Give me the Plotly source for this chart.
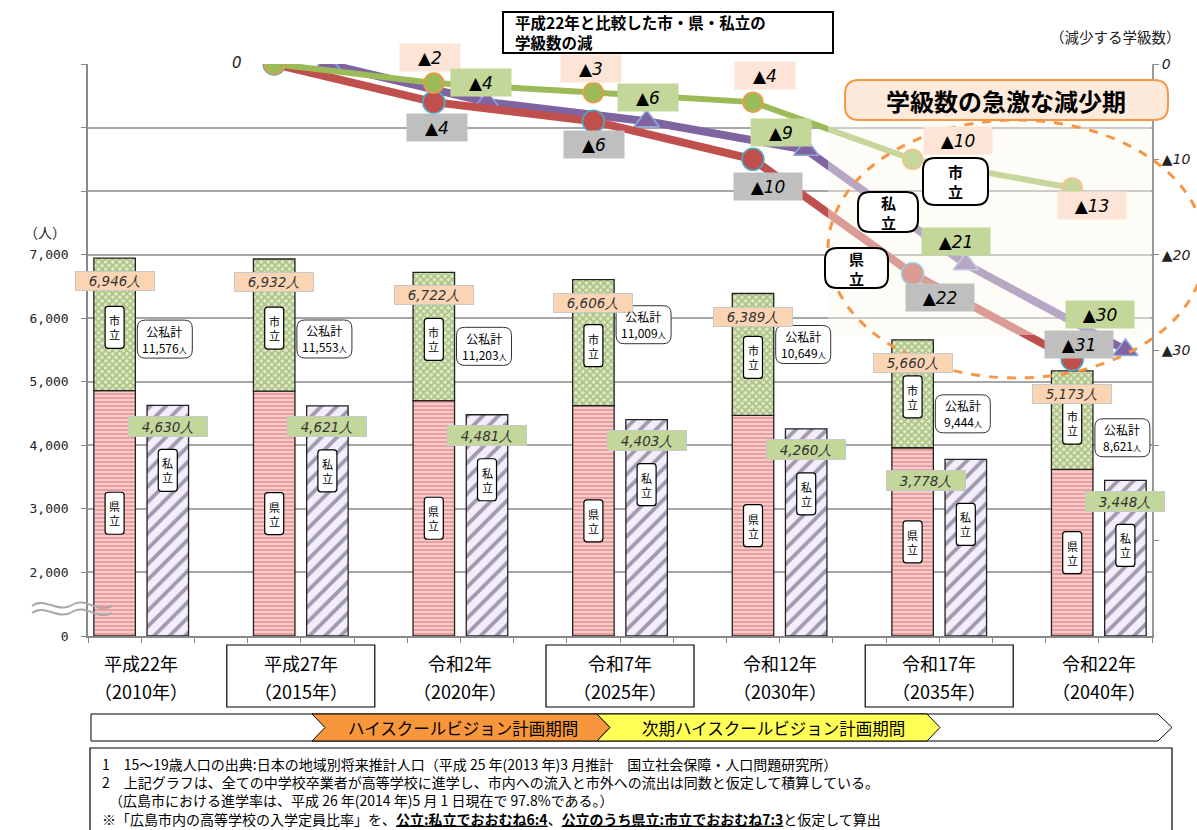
import plotly.graph_objects as go

W, H = 1197, 830

# ---------------- data ----------------
year_names = ["平成22年", "平成27年", "令和2年", "令和7年", "令和12年", "令和17年", "令和22年"]
year_ad = ["（2010年）", "（2015年）", "（2020年）", "（2025年）", "（2030年）", "（2035年）", "（2040年）"]
public_total = [6946, 6932, 6722, 6606, 6389, 5660, 5173]
kenritsu = [4862, 4852, 4705, 4624, 4472, 3962, 3621]
shiritsu = [2084, 2080, 2017, 1982, 1917, 1698, 1552]
private = [4630, 4621, 4481, 4403, 4260, 3778, 3448]
grand_total = [11576, 11553, 11203, 11009, 10649, 9444, 8621]

class_shi = [0, -2, -3, -4, -10, -13]
class_ken = [0, -4, -6, -10, -22, -31]
class_pri = [0, -4, -6, -9, -21, -30]

people_ticks = [0, 2000, 3000, 4000, 5000, 6000, 7000, 8000, 9000, 10000]
people_tick_text = ["0", "2,000", "3,000", "4,000", "5,000", "6,000", "7,000", "", "", ""]
class_ticks = [0, -10, -20, -30, -40, -50]
class_tick_text = ["<i>0</i>", "<i>▲10</i>", "<i>▲20</i>", "<i>▲30</i>", "", ""]

notes = [
    "1　15～19歳人口の出典:日本の地域別将来推計人口（平成 25 年(2013 年)3 月推計　国立社会保障・人口問題研究所）",
    "2　上記グラフは、全ての中学校卒業者が高等学校に進学し、市内への流入と市外への流出は同数と仮定して積算している。",
    "　（広島市における進学率は、平成 26 年(2014 年)5 月 1 日現在で 97.8%である。）",
    "※「広島市内の高等学校の入学定員比率」を、<b><u>公立:私立でおおむね6:4</u></b>、<b><u>公立のうち県立:市立でおおむね7:3</u></b>と仮定して算出",
]

# ------------- geometry / style ---------------
FONT = "Noto Sans CJK JP"
X0, X1 = 88, 1152
Y0, Y1 = 64, 636
SLOTS = 20
YMAX = 9000
SX = (X1 - X0) / SLOTS
SY = (Y1 - Y0) / YMAX


def disp(v):  # broken axis: 0..2000 squeezed into one step
    return v - 1000 if v >= 2000 else v / 2


def px(x):
    return x / W


def py(y):
    return 1 - y / H


def path_px(pts, close=True):
    s = "M " + " L ".join(f"{px(x):.5f},{py(y):.5f}" for x, y in pts)
    return s + (" Z" if close else "")


def rrect_px(x0, y0, x1, y1, r):
    P = lambda x, y: f"{px(x):.5f},{py(y):.5f}"
    return (f"M {P(x0 + r, y0)} L {P(x1 - r, y0)} Q {P(x1, y0)} {P(x1, y0 + r)} "
            f"L {P(x1, y1 - r)} Q {P(x1, y1)} {P(x1 - r, y1)} L {P(x0 + r, y1)} "
            f"Q {P(x0, y1)} {P(x0, y1 - r)} L {P(x0, y0 + r)} Q {P(x0, y0)} {P(x0 + r, y0)} Z")


def rrect_data(xc, yc, w, h, r):
    hw, hh, rx, ry = w / 2 / SX, h / 2 / SY, r / SX, r / SY
    x0, x1, y0, y1 = xc - hw, xc + hw, yc - hh, yc + hh
    P = lambda x, y: f"{x:.4f},{y:.2f}"
    return (f"M {P(x0 + rx, y0)} L {P(x1 - rx, y0)} Q {P(x1, y0)} {P(x1, y0 + ry)} "
            f"L {P(x1, y1 - ry)} Q {P(x1, y1)} {P(x1 - rx, y1)} L {P(x0 + rx, y1)} "
            f"Q {P(x0, y1)} {P(x0, y1 - ry)} L {P(x0, y0 + ry)} Q {P(x0, y0)} {P(x0 + rx, y0)} Z")


def pann(x, y, text, size, xanchor="center", yanchor="middle", **kw):
    d = dict(x=px(x), y=py(y), xref="paper", yref="paper", xanchor=xanchor, yanchor=yanchor,
             text=text, showarrow=False, font=dict(size=size, color=kw.pop("color", "black"),
                                                   family=kw.pop("family", FONT)))
    d.update(kw)
    return d


n = len(public_total)
pub_x = [3 * i + 0.5 for i in range(n)]
pri_x = [3 * i + 1.5 for i in range(n)]
grp_x = [3 * i + 1 for i in range(n)]
circ_x = [3 * (k + 1) + 0.5 for k in range(len(class_shi))]
tri_x = [3 * (k + 1) + 1.5 for k in range(len(class_pri))]

fig = go.Figure()

BW = 0.78
fig.add_bar(x=pub_x, y=[disp(k) for k in kenritsu], base=0, width=BW, name="県立",
            marker=dict(color="#F4C2C2", line=dict(color="#222", width=1.3),
                        pattern=dict(shape="-", fgcolor="#E07070", bgcolor="#F6CDCD", size=4, solidity=0.5)))
fig.add_bar(x=pub_x, y=shiritsu, base=[disp(k) for k in kenritsu], width=BW, name="市立",
            marker=dict(color="#C9DBA5", line=dict(color="#222", width=1.3),
                        pattern=dict(shape="x", fgcolor="#77983A", bgcolor="#DDE8C6", size=5, solidity=0.55)))
fig.add_bar(x=pri_x, y=[disp(p) for p in private], base=0, width=BW, name="私立",
            marker=dict(color="#EEE8F6", line=dict(color="#222", width=1.3),
                        pattern=dict(shape="/", fgcolor="#4E4668", bgcolor="#F3EEFA", size=11, solidity=0.35)))

# class-reduction lines
fig.add_scatter(x=tri_x, y=class_pri, yaxis="y2", mode="lines+markers", name="私立学級",
                line=dict(color="#8064A2", width=8),
                marker=dict(symbol="triangle-up", size=22, color="#8064A2", line=dict(color="#8EA9DB", width=1.5)))
fig.add_scatter(x=circ_x, y=class_ken, yaxis="y2", mode="lines+markers", name="県立学級",
                line=dict(color="#C0504D", width=8),
                marker=dict(symbol="circle", size=22, color="#C0504D", line=dict(color="#4BACC6", width=1.5)))
fig.add_scatter(x=circ_x, y=class_shi, yaxis="y2", mode="lines+markers", name="市立学級",
                line=dict(color="#9BBB59", width=6),
                marker=dict(symbol="circle", size=20, color="#9BBB59", line=dict(color="#F79646", width=1.5)))

shapes = []
ann = []

# faded zone + dashed ellipse + callout
shapes.append(dict(type="rect", xref="paper", yref="paper", x0=px(828), x1=px(1151), y0=py(335), y1=py(120),
                   fillcolor="rgba(251,248,238,0.45)", line=dict(width=0), layer="above"))
shapes.append(dict(type="circle", xref="paper", yref="paper", x0=px(828), x1=px(1205), y0=py(378), y1=py(120),
                   line=dict(color="#F79646", width=3, dash="dash"), layer="above"))
shapes.append(dict(type="path", xref="paper", yref="paper", path=rrect_px(845, 80, 1168, 120, 14),
                   fillcolor="#FDEADB", line=dict(color="#F79646", width=2), layer="above"))
ann.append(pann(1006, 101, "<b>学級数の急激な減少期</b>", 24))

# title box
shapes.append(dict(type="rect", xref="paper", yref="paper", x0=px(503), x1=px(833), y0=py(53), y1=py(12),
                   fillcolor="white", line=dict(color="black", width=2)))
ann.append(pann(513, 32, "<b>平成22年と比較した市・県・私立の<br>学級数の減</b>", 15.5, xanchor="left", align="left"))
ann.append(pann(1115, 36, "（減少する学級数）", 14.5, color="#222"))
ann.append(pann(237, 63, "<i>0</i>", 15, color="#222", family="DejaVu Sans"))
ann.append(pann(45, 232, "（人）", 14, color="#222"))

# axis break mark
for dy in (0, 7):
    shapes.append(dict(type="path", xref="paper", yref="paper", line=dict(color="#A8A8A8", width=2),
                       path=(f"M {px(32):.5f},{py(606 + dy):.5f} C {px(45):.5f},{py(596 + dy):.5f} "
                             f"{px(58):.5f},{py(614 + dy):.5f} {px(72):.5f},{py(605 + dy):.5f} "
                             f"C {px(85):.5f},{py(596 + dy):.5f} {px(98):.5f},{py(614 + dy):.5f} "
                             f"{px(112):.5f},{py(606 + dy):.5f}")))

# bar labels
lab_font = dict(size=13.5, color="#333", family="DejaVu Sans")
for i in range(n):
    top_pub = disp(public_total[i])
    ann.append(dict(x=pub_x[i], y=top_pub, xref="x", yref="y", yshift=-23, showarrow=False,
                    xanchor="center", yanchor="middle",
                    text=f"<i>{public_total[i]:,}人</i>", font=lab_font, bgcolor="#FBD4B4",
                    bordercolor="#C8C8C8", borderwidth=1, width=76, height=16))
    ann.append(dict(x=pri_x[i], y=disp(private[i]), xref="x", yref="y", yshift=-21,
                    xshift=(-40 if i == 5 else 0), showarrow=False, xanchor="center", yanchor="middle",
                    text=f"<i>{private[i]:,}人</i>", font=lab_font, bgcolor="#C4D79B",
                    bordercolor="#C8C8C8", borderwidth=1, width=76, height=17))
    tags = [(pub_x[i], disp(kenritsu[i]) + shiritsu[i] / 2 - 3 / SY, "市<br>立"),
            (pub_x[i], disp(kenritsu[i]) / 2, "県<br>立"),
            (pri_x[i], disp(private[i]) - 65 / SY, "私<br>立")]
    for xc, yc, t in tags:
        shapes.append(dict(type="path", xref="x", yref="y", path=rrect_data(xc, yc, 19, 42, 3),
                           fillcolor="white", line=dict(color="black", width=1.2), layer="above"))
        ann.append(dict(x=xc, y=yc, xref="x", yref="y", text=t, showarrow=False,
                        xanchor="center", yanchor="middle",
                        font=dict(size=11, color="black", family=FONT)))

# 公私計 boxes
kouji_below = [81, 80, 74, 45, 51, 74, 67]
for i in range(n):
    yc = disp(public_total[i]) - kouji_below[i] / SY
    xc = pri_x[i] - 3 / SX
    shapes.append(dict(type="path", xref="x", yref="y", path=rrect_data(xc, yc, 55, 38, 8),
                       fillcolor="white", line=dict(color="#333", width=1), layer="above"))
    ann.append(dict(x=xc, y=yc, xref="x", yref="y", showarrow=False, xanchor="center", yanchor="middle",
                    text=f"公私計<br>{grand_total[i]:,}<span style='font-size:8px'>人</span>",
                    font=dict(size=12, color="black", family=FONT)))

# category labels (two lines) under the axis
for i in range(n):
    for txt, ypix in ((year_names[i], 663), (year_ad[i], 691)):
        ann.append(dict(x=grp_x[i], y=py(ypix), xref="x", yref="paper", xanchor="center", yanchor="middle",
                        text=txt, showarrow=False, font=dict(size=18, color="black", family=FONT)))

# line labels
shi_off = [None, (-4, -26), (-2, -24), (12, -27), (45, -19), (20, 18)]
ken_off = [None, (3, 25), (1, 23), (15, 27), (27, 24), (7, -15)]
pri_off = [None, (-6, -20), (1, -24), (-25, -17), (-10, -23), (-25, -36)]
for xs, vals, offs, col in ((circ_x, class_shi, shi_off, "#FCE4D6"),
                            (tri_x, class_pri, pri_off, "#C4D79B"),
                            (circ_x, class_ken, ken_off, "#BFBFBF")):
    for k in range(1, len(vals)):
        dx, dy = offs[k]
        txt = f"▲{abs(vals[k])}"
        ann.append(dict(x=xs[k], y=vals[k], xref="x", yref="y2", xshift=dx, yshift=-dy, showarrow=False,
                        xanchor="center", yanchor="middle",
                        text=f"<i>{txt}</i>", bgcolor=col, width=(58 if abs(vals[k]) < 10 else 66), height=25,
                        font=dict(size=17, color="black", family="DejaVu Sans")))

# series name tags in line zone
for (x0, y0, x1, y1, t) in ((923, 158, 988, 205, "市<br>立"), (858, 192, 918, 232, "私<br>立"),
                            (825, 248, 888, 288, "県<br>立")):
    shapes.append(dict(type="path", xref="paper", yref="paper", path=rrect_px(x0, y0, x1, y1, 12),
                       fillcolor="white", line=dict(color="black", width=2), layer="above"))
    ann.append(pann((x0 + x1) / 2, (y0 + y1) / 2, f"<b>{t}</b>", 15))

# boxes around alternate years
for i in (1, 3, 5):
    shapes.append(dict(type="rect", xref="x", yref="paper", x0=grp_x[i] - 74 / SX, x1=grp_x[i] + 74 / SX,
                       y0=py(707), y1=py(645), line=dict(color="black", width=1.2)))

# plan-period arrow band
shapes.append(dict(type="path", xref="paper", yref="paper", fillcolor="white", line=dict(color="black", width=1),
                   path=path_px([(91, 714), (1158, 714), (1172, 727.5), (1158, 741), (91, 741)])))
shapes.append(dict(type="path", xref="paper", yref="paper", fillcolor="#F7963A", line=dict(color="black", width=1),
                   path=path_px([(312, 714), (597, 714), (610, 727.5), (597, 741), (312, 741), (325, 727.5)])))
shapes.append(dict(type="path", xref="paper", yref="paper", fillcolor="#FFFF55", line=dict(color="black", width=1),
                   path=path_px([(597, 714), (927, 714), (940, 727.5), (927, 741), (597, 741), (610, 727.5)])))
ann.append(pann(463, 728, "ハイスクールビジョン計画期間", 16.5))
ann.append(pann(773, 728, "次期ハイスクールビジョン計画期間", 16.5))

# notes (one multi-line block)
shapes.append(dict(type="rect", xref="paper", yref="paper", x0=px(90), x1=px(1172), y0=py(835), y1=py(748),
                   line=dict(color="black", width=1.2)))
ann.append(pann(100, 752, "<br>".join(notes), 14, xanchor="left", yanchor="top", align="left"))

fig.update_layout(
    width=W, height=H, margin=dict(l=0, r=0, t=0, b=0, autoexpand=False),
    paper_bgcolor="white", plot_bgcolor="white", showlegend=False, barmode="overlay",
    font=dict(family=FONT, color="black"),
    xaxis=dict(domain=[px(X0), px(X1)], range=[0, SLOTS], tickmode="array", tickvals=grp_x,
               showticklabels=False, ticks="outside", ticklen=5, tickcolor="#888", showline=True,
               linecolor="#888", linewidth=1.5, showgrid=False, zeroline=False,
               minor=dict(tickmode="linear", tick0=0, dtick=1, ticks="outside", ticklen=5,
                          tickcolor="#888", showgrid=False)),
    yaxis=dict(domain=[py(Y1), py(Y0)], range=[0, YMAX], tickmode="array",
               tickvals=[disp(t) for t in people_ticks], ticktext=people_tick_text,
               showgrid=True, gridcolor="#A6A6A6", gridwidth=1.5, ticks="outside", ticklen=5,
               tickcolor="#888", showline=True, linecolor="#888", linewidth=1.5, zeroline=False,
               tickfont=dict(size=13, color="#222", family="DejaVu Sans Mono"), ticklabelstandoff=10),
    yaxis2=dict(overlaying="y", side="right", anchor="x", range=[-60, 0], tickmode="array",
                tickvals=class_ticks, ticktext=class_tick_text, showgrid=False, ticks="outside",
                ticklen=5, tickcolor="#888", showline=True, linecolor="#999", linewidth=2,
                zeroline=False, tickfont=dict(size=14, color="#222", family="DejaVu Sans")),
    shapes=shapes, annotations=ann,
)

fig.write_html("out.html", config={"displayModeBar": False},
               post_script="document.body.style.margin='0';")
